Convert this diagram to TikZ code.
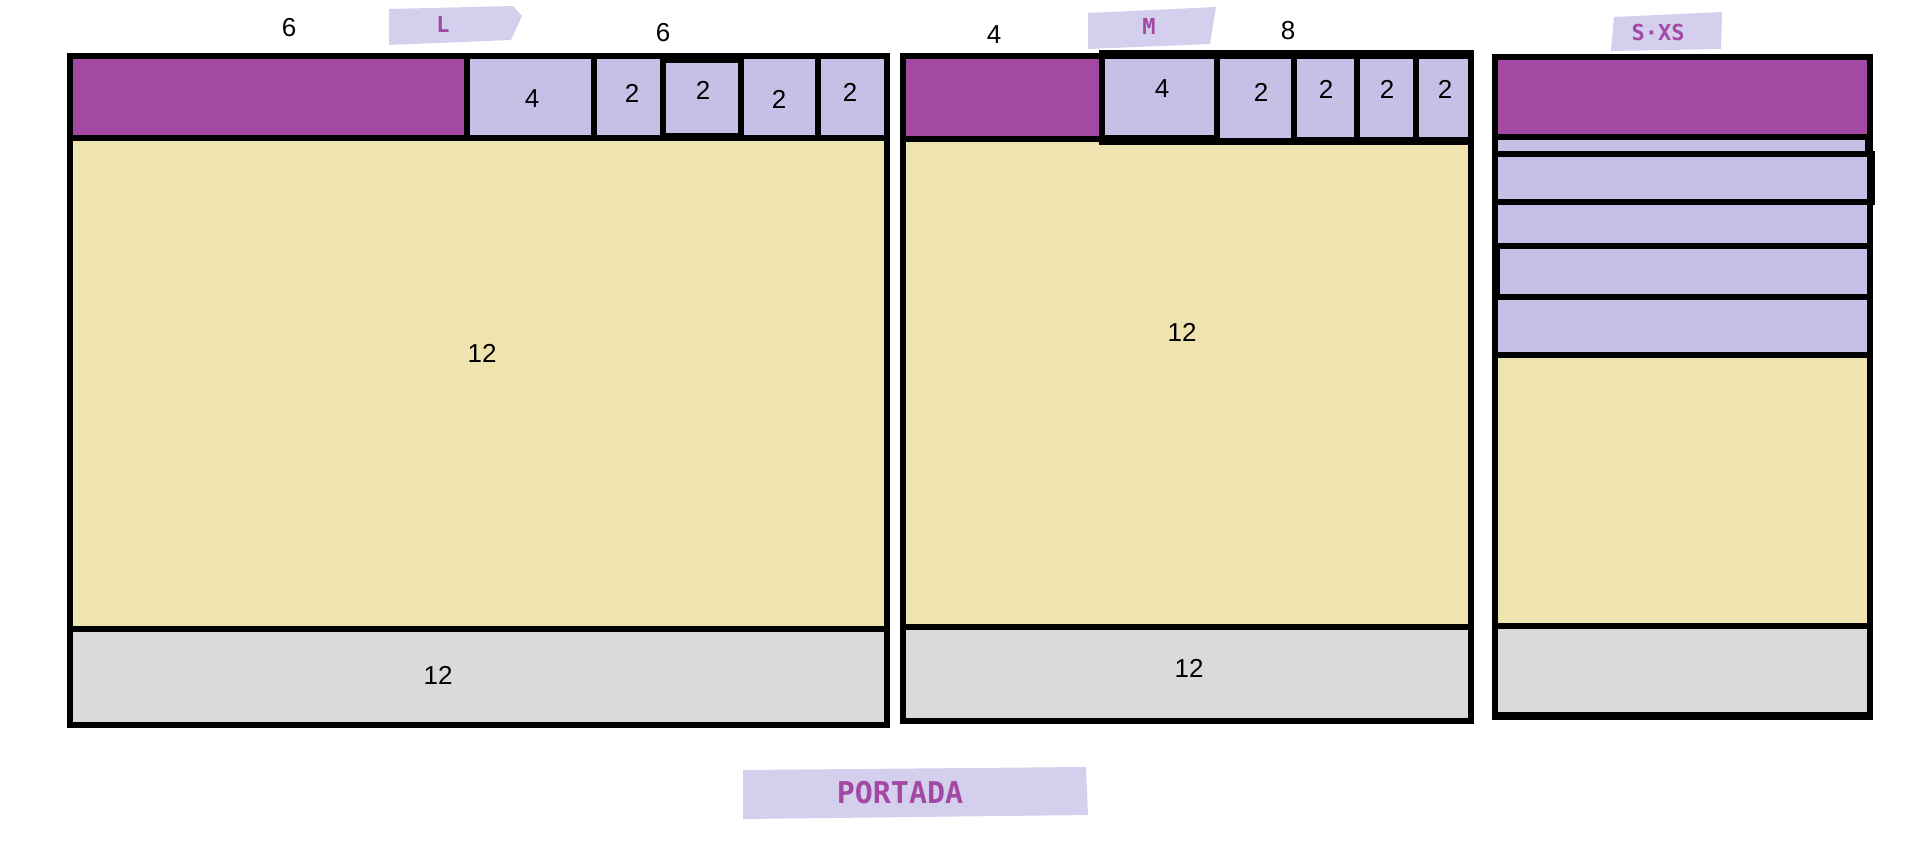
\documentclass[tikz,border=0pt]{standalone}
\usepackage{fontspec}
\setmainfont{Liberation Sans}
\newfontfamily\tagfont{DejaVu Sans Mono}
\usepackage{xcolor}
\usetikzlibrary{positioning}
\definecolor{brandpurple}{HTML}{A349A4}
\definecolor{navlav}{HTML}{C8BFE7}
\definecolor{bodyyellow}{HTML}{EFE4B0}
\definecolor{footgrey}{HTML}{DADADA}
\definecolor{taglav}{HTML}{D5CFEE}

\begin{document}
\begin{tikzpicture}[x=1pt, y=-1pt,
  box/.style={draw=black, line width=6pt},
  brand/.style={box, fill=brandpurple},
  navcell/.style={box, fill=navlav},
  content/.style={box, fill=bodyyellow},
  footer/.style={box, fill=footgrey},
  num/.style={font=\fontsize{26}{30}\selectfont, inner sep=0pt},
  tagbg/.style={fill=taglav},
  tagtxt/.style={font=\tagfont\bfseries\fontsize{22}{26}\selectfont, text=brandpurple, inner sep=0pt},
  bigtag/.style={tagtxt, font=\tagfont\bfseries\fontsize{30}{34}\selectfont}
]
\useasboundingbox (0,0) rectangle (1914,866);

% L
\draw[content] (70,138) rectangle (887,629);
\draw[footer] (70,629) rectangle (887,725);
\draw[brand] (70,56) rectangle (467,138);
\draw[navcell] (467,56) rectangle (594,138);
\draw[navcell] (594,56) rectangle (663,138);
\draw[navcell] (663,60) rectangle (741,136);
\draw[navcell] (741,56) rectangle (818,138);
\draw[navcell] (818,56) rectangle (887,138);
\draw[box] (70,56) rectangle (887,725);
\fill[tagbg] (389,9) -- (513,6) -- (522,16) -- (511,40) -- (389,45) -- cycle;
\node[tagtxt] (tagL) at (443,24) {L};
\node[num] (wL1) at (289,28) {6};
\node[num] (wL2) at (663,33) {6};
\node[num] (navL1) at (532,99) {4};
\node[num] (navL2) at (632,93) {2};
\node[num] (navL3) at (703,90) {2};
\node[num] (navL4) at (779,99) {2};
\node[num] (navL5) at (850,92) {2};
\node[num] (bodyL) at (482,353) {12};
\node[num] (footL) at (438,675) {12};

% M
\draw[content] (903,139) rectangle (1471,627);
\draw[footer] (903,627) rectangle (1471,721);
\draw[brand] (903,56) rectangle (1102,139);
\draw[navcell] (1102,54) rectangle (1217,138);
\draw[navcell] (1217,54) rectangle (1294,141);
\draw[navcell] (1294,54) rectangle (1357,140);
\draw[navcell] (1357,54) rectangle (1416,140);
\draw[navcell] (1416,54) rectangle (1471,140);
\draw[box] (903,56) rectangle (1471,721);
\draw[box] (1102,53) rectangle (1471,142);
\fill[tagbg] (1088,13) -- (1216,7) -- (1210,44) -- (1088,49) -- cycle;
\node[tagtxt] (tagM) at (1149,26) {M};
\node[num] (wM1) at (994,35) {4};
\node[num] (wM2) at (1288,31) {8};
\node[num] (navM1) at (1162,89) {4};
\node[num] (navM2) at (1261,92) {2};
\node[num] (navM3) at (1326,89) {2};
\node[num] (navM4) at (1387,89) {2};
\node[num] (navM5) at (1445,89) {2};
\node[num] (bodyM) at (1182,332) {12};
\node[num] (footM) at (1189,668) {12};

% S-XS
\draw[content] (1495,355) rectangle (1870,626);
\draw[footer] (1495,626) rectangle (1870,717);
\draw[brand] (1495,57) rectangle (1870,137);
\draw[navcell] (1495,137) rectangle (1868,154);
\draw[navcell] (1495,154) rectangle (1872,202);
\draw[navcell] (1495,202) rectangle (1870,246);
\draw[navcell] (1497,246) rectangle (1870,297);
\draw[navcell] (1495,297) rectangle (1870,355);
\draw[box] (1495,57) rectangle (1870,717);
\draw[line width=8pt] (1495,716) -- (1870,716);
\fill[tagbg] (1614,17) -- (1722,12) -- (1721,49) -- (1611,51) -- cycle;
\node[tagtxt] (tagS) at (1658,32) {S·XS};

% portada
\fill[tagbg] (743,770) -- (1086,767) -- (1088,815) -- (743,819) -- cycle;
\node[bigtag] (portada) at (900,793) {PORTADA};
\end{tikzpicture}
\end{document}
